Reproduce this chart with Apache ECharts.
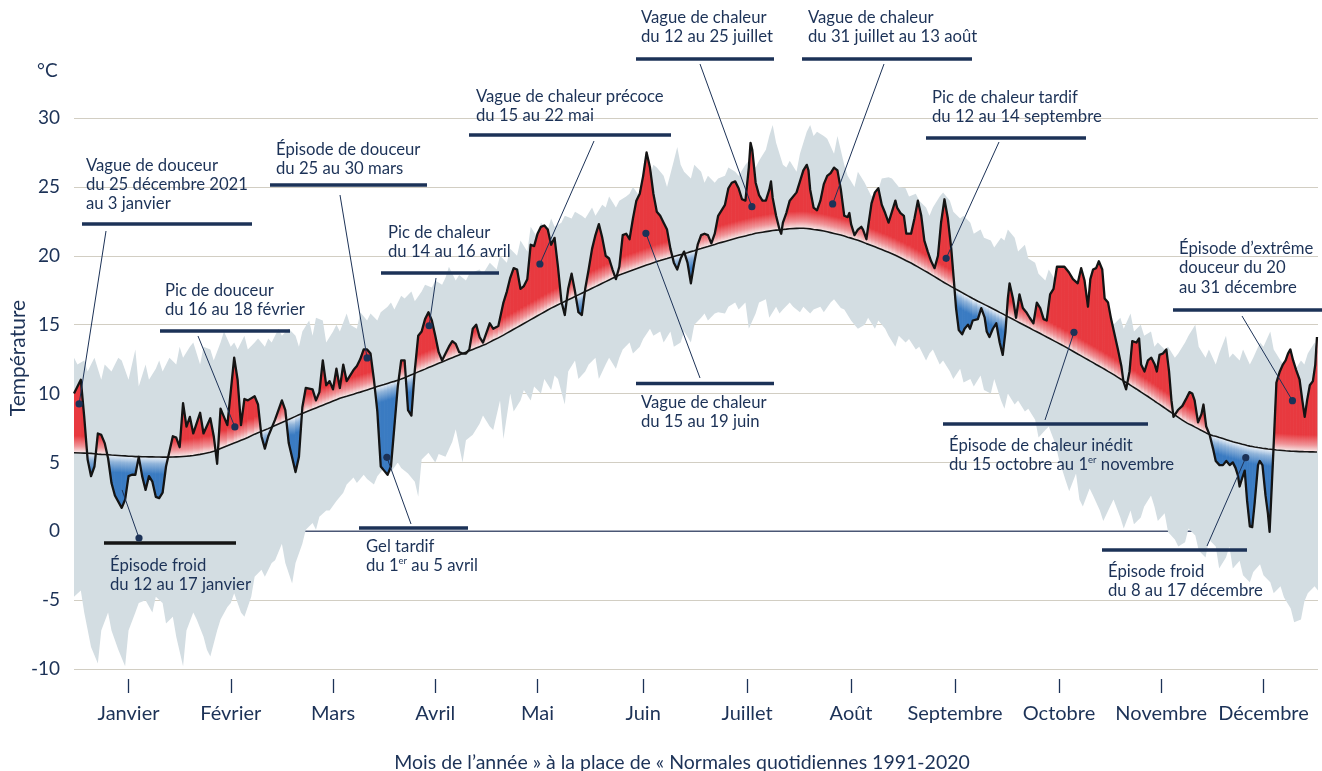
<!DOCTYPE html>
<html><head><meta charset="utf-8">
<script src="https://cdn.jsdelivr.net/npm/echarts@6/dist/echarts.min.js"></script>
<style>html,body{margin:0;padding:0;background:#fff}#c{width:1322px;height:771px}</style>
</head><body><div id="c"></div>
<script>
// ---------- DATA ----------
const monthNames = ['Janvier','Février','Mars','Avril','Mai','Juin','Juillet','Août','Septembre','Octobre','Novembre','Décembre'];
const monthTicks = [16, 46, 76, 106, 136, 167, 197.5, 228, 258.5, 289, 319, 349];
const yTicks = [-10, -5, 0, 5, 10, 15, 20, 25, 30];

// day of year (0 = 1 janvier), 2022 daily mean temperature, daily normal 1991-2020
const days = [
 0,2,3,4,5,6,7,8,9,10, 11,12,14,15,16,17,18,19,20,21, 22,23,24,25,26,27,29,30,31,32,
 33,34,35,37,38,40,41,42,43,45, 47,48,49,50,51,53,54,55,56,57, 59,61,62,63,65,66,67,68,70,71,
 72,73,74,75,76,77,78,79,80,81, 82,83,84,85,86,87,88,89,90,91, 92,93,94,95,96,97,98,99,100,101,
 102,103,104,105,106,107,108,109,110,111, 112,113,114,115,116,117,118,119,120,121,
 122,123,124.5,126,127,128,129,130,131,132, 133,134,135,136,137,138,139,140,141,142,
 143,144,145,146,147,148,149,150,151,152, 153,154,155,156,157,158,159,160,161,162,
 163,164,165,166,167,168,169,170,171,172, 173,174,175,176,177,178,179,180,181,182,
 183,184,185,186,187,188,189,190,191,192, 193,194,195,196,197,198,198.5,199,200,201,
 202,203,204,204.5,205,206,207,207.5,208,209, 210,212,213,214,215,215.5,216,217,218,219,
 220,221,222,223,224,225,226,227,227.5,228, 229,230,231,231.5,232.5,233,234,235,236,237,
 238,239,240,241,241.5,242.5,243.5,244.2,245.6,246.6, 247.6,248.6,249.5,250.5,251.5,252.5,253.5,254.4,255.4,256.4,
 257.4,258.1,258.8,259.6,260.6,261.3,262.3,262.9,263.7,265.2, 266.2,267.2,267.8,268.6,269.6,270.6,271.6,272.5,273.3,274,
 274.5,275.5,276.4,277.4,278.4,279.4,280.4,281.5,282.5,283.5, 284.5,285.4,286.4,287.4,288.4,289.7,290.6,291.9,293.1,294.5,
 295.5,296.5,297.5,298.2,299,299.9,300.7,301.7,302.4,303.4, 304.3,305.3,306.3,307.3,307.9,308.7,309.7,310.5,311.7,312.5,
 313.1,314.1,315.1,316.1,317.1,317.7,318.5,319.5,320.5,321.3, 322,322.6,323.9,325.2,326.5,327.3,328.1,328.8,329.8,330.8,
 331.4,332.2,333.2,334.2,335,336.1,337.1,338.1,339.1,340, 340.8,341.5,342,342.8,343.5,344.2,345,345.7,346.4,347.4,
 347.9,348.7,349.6,350.3,350.8,351.8,352.8,353.8,354.7,355.5, 356.2,356.9,357.7,358.6,359.6,360.4,361.1,361.8,362.6,363.5,
 364.2,364.7
];
const temp = [
 10.0,11.0,8.3,5.2,4.0,4.7,7.1,7.0,6.4,5.3, 3.5,2.6,1.7,2.3,4.0,4.1,4.1,5.4,4.0,3.0, 4.0,3.6,2.5,2.4,2.8,4.7,6.9,6.8,6.1,9.3,
 7.6,8.3,7.1,8.6,7.1,8.2,6.9,4.9,8.9,7.7, 12.6,11.0,7.7,9.6,9.5,9.8,9.2,6.9,6.0,6.9, 8.1,9.5,8.8,6.4,4.3,5.4,9.0,10.4,10.3,9.5,
 10.1,12.4,10.6,10.9,10.3,11.8,10.4,12.1,10.9,11.3, 11.7,12.0,12.5,13.2,13.2,12.9,11.0,8.7,4.7,4.4, 4.1,4.7,7.6,10.5,12.4,12.4,8.8,8.4,11.7,14.2,
 14.5,15.4,15.9,15.3,14.2,13.0,12.4,12.9,13.4,13.8, 13.6,13.0,12.9,12.9,13.2,14.7,15.0,14.1,13.7,14.4,
 15.1,14.7,14.9,16.6,17.4,18.4,19.1,19.0,17.6,17.8, 18.3,20.8,20.7,21.6,22.1,22.2,21.9,20.8,21.3,19.2,
 16.7,15.7,17.6,18.7,17.4,15.9,15.7,17.6,19.0,20.5, 21.5,22.3,21.3,20.0,19.8,19.0,18.3,19.2,21.5,21.6,
 21.2,22.7,24.0,24.5,25.8,27.5,26.4,24.5,23.2,22.9, 22.4,21.9,20.5,19.5,19.0,19.8,20.3,19.5,18.0,19.5,
 20.8,21.5,21.6,21.5,20.9,21.6,22.9,23.3,23.7,24.9, 25.3,25.4,24.9,24.1,24.0,26.4,28.2,27.7,25.3,24.4,
 24.0,24.0,24.8,25.4,24.2,22.9,21.9,21.6,22.4,23.1, 24.0,24.6,25.4,26.2,26.6,26.2,24.8,23.5,23.3,24.0,
 25.2,25.8,26.0,26.4,26.2,24.8,22.9,22.8,23.1,22.3, 21.5,21.9,22.1,21.9,21.2,22.1,23.8,24.6,24.9,23.7,
 23.1,22.4,23.2,24.0,23.5,23.1,22.9,21.6,21.6,22.7, 24.0,22.9,21.1,20.3,19.6,19.1,20.0,22.4,24.1,22.7,
 20.5,18.4,16.2,14.6,14.3,14.7,15.0,14.7,15.3,15.4, 16.2,15.5,14.5,14.1,14.7,15.1,13.7,12.8,14.5,16.9,
 18.0,16.9,15.5,17.2,16.2,15.9,15.5,15.1,16.6,16.2, 15.4,15.3,17.2,17.6,19.2,19.2,19.2,18.8,18.3,18.0,
 19.1,18.2,16.3,18.3,19.0,19.1,19.6,19.0,16.9,16.6, 15.4,14.3,13.2,12.0,10.9,10.3,11.6,13.8,13.7,14.0,
 12.1,11.6,12.4,12.6,12.1,11.6,12.8,12.9,13.2,11.6, 9.5,8.3,8.8,9.1,9.7,10.1,10.0,9.5,7.9,8.5,
 9.2,7.6,7.0,6.0,5.1,4.8,4.8,5.1,4.8,5.0, 4.6,4.05,3.25,3.9,4.4,2.2,0.35,0.3,2.0,4.8,
 5.1,4.8,2.6,1.3,-0.05,5.2,10.8,11.6,12.1,12.4, 12.9,13.2,12.4,11.7,11.0,9.5,8.3,9.5,10.6,10.9,
 12.1,14.1
];
const normal = [
 5.70,5.68,5.67,5.66,5.65,5.63,5.60,5.58,5.57,5.55, 5.53,5.52,5.48,5.47,5.45,5.44,5.42,5.42,5.41,5.41, 5.40,5.40,5.39,5.39,5.38,5.38,5.39,5.40,5.41,5.43,
 5.45,5.47,5.50,5.58,5.63,5.73,5.80,5.90,6.00,6.20, 6.40,6.50,6.60,6.70,6.80,7.05,7.15,7.25,7.35,7.45, 7.68,7.90,8.00,8.12,8.34,8.45,8.55,8.65,8.85,8.95,
 9.05,9.15,9.25,9.35,9.45,9.55,9.65,9.73,9.80,9.88, 9.95,10.03,10.10,10.18,10.26,10.34,10.42,10.50,10.58,10.65, 10.73,10.81,10.88,10.96,11.05,11.15,11.25,11.36,11.46,11.57,
 11.67,11.77,11.88,11.98,12.08,12.19,12.29,12.39,12.50,12.60, 12.70,12.80,12.90,13.00,13.10,13.20,13.30,13.40,13.50,13.60,
 13.73,13.86,14.04,14.24,14.38,14.52,14.66,14.80,14.94,15.08, 15.22,15.36,15.50,15.64,15.78,15.92,16.06,16.20,16.32,16.44,
 16.56,16.68,16.80,16.92,17.04,17.16,17.28,17.40,17.52,17.64, 17.76,17.88,18.00,18.12,18.24,18.36,18.48,18.60,18.69,18.78,
 18.87,18.96,19.05,19.14,19.23,19.32,19.41,19.50,19.58,19.65, 19.73,19.80,19.88,19.95,20.02,20.08,20.15,20.22,20.30,20.37,
 20.45,20.52,20.60,20.67,20.75,20.82,20.90,20.97,21.04,21.11, 21.18,21.25,21.32,21.38,21.44,21.50,21.53,21.56,21.63,21.67,
 21.71,21.75,21.79,21.81,21.83,21.86,21.88,21.89,21.91,21.93, 21.96,21.99,22.00,22.00,21.98,21.97,21.95,21.91,21.88,21.84,
 21.80,21.74,21.68,21.62,21.56,21.50,21.43,21.35,21.32,21.28, 21.20,21.13,21.03,20.98,20.88,20.84,20.75,20.65,20.55,20.45,
 20.35,20.25,20.15,20.03,19.97,19.85,19.73,19.64,19.47,19.33, 19.19,19.05,18.92,18.78,18.63,18.48,18.33,18.19,18.04,17.90,
 17.76,17.67,17.57,17.46,17.32,17.22,17.09,17.01,16.90,16.70, 16.58,16.45,16.38,16.28,16.15,16.02,15.89,15.78,15.67,15.58,
 15.52,15.39,15.27,15.14,15.01,14.88,14.75,14.60,14.48,14.35, 14.22,14.10,13.97,13.84,13.71,13.54,13.42,13.24,13.07,12.87,
 12.73,12.59,12.45,12.35,12.24,12.11,12.00,11.86,11.76,11.61, 11.48,11.33,11.17,11.02,10.92,10.80,10.65,10.52,10.33,10.20,
 10.10,9.94,9.78,9.61,9.44,9.34,9.21,9.04,8.87,8.73, 8.61,8.51,8.29,8.07,7.87,7.76,7.68,7.58,7.45,7.32,
 7.24,7.14,7.03,6.93,6.90,6.81,6.73,6.65,6.57,6.50, 6.45,6.40,6.37,6.32,6.28,6.23,6.18,6.15,6.12,6.08,
 6.06,6.03,6.00,5.97,5.96,5.93,5.90,5.88,5.86,5.84, 5.83,5.82,5.81,5.80,5.78,5.78,5.77,5.77,5.76,5.76,
 5.75,5.75
];
// range of daily values 1991-2020 (upper and lower envelope): [day, °C]
const bandHigh = [
 [0,12.6],[1,12.1],[3,12.4],[4,11.6],[5,12.1],[6,12.6],[8,11.0],[9,12.1],[11,11.6],[12,12.1],[13,12.6],[14,12.4],[16,11.0],[18,13.2],[19,10.5],[21,12.1],[22,11.0],[24,11.8],[25,12.4],[26,11.6],
 [28,12.6],[30,12.1],[31,13.4],[32,12.6],[34,13.4],[35,13.7],[37,12.1],[38,13.4],[40,13.2],[41,12.4],[43,13.7],[44,14.5],[46,13.4],[47,13.7],[48,13.2],[50,14.2],[51,13.2],[53,13.7],[54,14.0],[56,13.4],
 [57,14.0],[58,13.7],[60,14.7],[61,14.2],[63,14.7],[65,14.2],[66,13.4],[67,14.5],[69,15.3],[70,14.2],[71,15.5],[73,15.3],[74,13.7],[76,14.5],[77,15.0],[78,14.5],[80,15.8],[81,15.0],[83,14.7],[84,15.9],
 [86,15.3],[87,15.8],[89,15.3],[90,15.9],[92,16.3],[93,16.6],[94,16.1],[96,17.1],[97,16.9],[99,17.4],[100,16.7],[102,17.4],[103,17.9],[105,17.7],[106,18.2],[108,17.9],[109,18.4],[110,19.2],[112,18.2],[113,18.6],
 [115,18.2],[116,18.7],[117,18.8],[119,19.0],[120,18.7],[122,19.5],[124,19.0],[125,20.0],[127,19.5],[128,20.5],[130,20.0],[131,21.1],[133,20.3],[134,22.1],[136,21.3],[137,22.4],[139,21.9],[140,22.7],[141,22.1],[143,22.4],
 [144,22.9],[146,22.7],[147,23.2],[149,22.9],[150,22.7],[152,23.5],[153,22.9],[155,23.7],[156,23.5],[157,24.3],[159,23.5],[160,24.0],[162,24.3],[163,24.5],[164,25.0],[166,24.3],[167,25.3],[169,25.8],[170,26.6],[171,26.4],
 [173,25.8],[174,25.0],[176,26.9],[177,27.9],[178,26.6],[179,26.1],[181,25.6],[182,26.6],[184,26.1],[185,25.3],[186,25.8],[188,25.3],[189,25.6],[191,25.8],[192,26.4],[194,26.1],[195,25.8],[197,26.6],[198,26.9],[200,26.4],
 [201,26.9],[203,27.7],[204,28.7],[205,29.5],[206,28.2],[208,26.6],[209,26.4],[210,26.9],[212,26.1],[213,27.4],[215,29.0],[216,29.5],[217,28.7],[218,29.0],[220,28.7],[221,28.5],[223,27.4],[224,28.7],[226,26.6],[227,25.8],
 [229,25.0],[230,26.1],[232,25.3],[233,24.8],[234,24.3],[236,24.8],[237,25.6],[239,25.7],[240,25.6],[242,25.0],[244,24.9],[245,24.3],[247,24.5],[248,24.0],[250,23.5],[251,22.9],[252,23.5],[254,24.3],[255,24.6],[257,24.0],
 [258,23.2],[260,22.7],[261,22.9],[263,22.4],[264,21.6],[266,21.9],[267,21.3],[269,21.1],[270,20.6],[272,21.3],[273,21.1],[274,21.9],[276,21.3],[277,20.3],[279,20.8],[280,19.8],[282,19.5],[283,18.7],[285,18.2],[286,19.0],
 [288,18.2],[289,18.7],[291,17.9],[292,17.4],[294,17.7],[295,18.2],[296,17.4],[298,16.9],[299,17.4],[301,16.6],[302,16.1],[304,15.8],[305,15.0],[307,15.5],[308,14.7],[310,15.8],[311,14.5],[313,15.0],[314,14.2],[316,14.5],
 [317,13.4],[318,13.7],[320,13.2],[321,13.4],[323,12.6],[324,12.9],[326,13.7],[327,14.2],[329,15.0],[330,13.4],[332,12.6],[333,13.2],[335,12.1],[336,12.9],[338,14.2],[339,12.6],[340,12.9],[342,12.4],[343,13.2],[345,12.1],
 [346,12.6],[348,13.7],[349,13.4],[351,14.5],[352,13.2],[354,12.4],[355,12.1],[357,12.6],[358,11.6],[360,12.4],[361,12.1],[362,12.9],[364,13.7],[365,13.0]
];
const bandLow = [
 [0,-4.75],[2,-4.3],[3,-5.9],[5,-8.4],[7,-9.6],[8,-7.2],[10,-5.9],[11,-7.2],[13,-8.6],[15,-9.8],[16,-7.2],[18,-5.9],[19,-5.2],[21,-5.0],[23,-5.9],[24,-4.75],[26,-5.2],[27,-6.7],[29,-6.2],[30,-7.65],
 [32,-9.8],[33,-7.2],[35,-5.9],[36,-6.4],[38,-7.65],[39,-8.6],[40,-9.1],[42,-7.2],[43,-6.4],[45,-5.5],[46,-5.2],[47,-4.5],[49,-5.9],[50,-6.2],[52,-4.75],[53,-3.3],[55,-2.8],[56,-3.3],[58,-2.3],[59,-2.1],
 [61,-0.9],[62,-2.3],[64,-3.8],[65,-2.3],[67,-0.9],[68,0.1],[70,0.6],[71,0.1],[72,1.05],[74,1.5],[75,1.5],[77,2.2],[79,2.8],[80,3.4],[82,3.9],[83,3.5],[85,4.1],[86,3.8],[88,3.4],[89,4.0],
 [91,4.6],[93,4.3],[95,5.0],[96,4.6],[98,4.2],[100,3.6],[101,2.5],[102,5.2],[104,5.7],[106,5.0],[107,5.6],[109,5.4],[111,6.5],[112,7.4],[114,5.0],[115,6.6],[117,7.0],[119,7.8],[120,8.4],[122,7.6],
 [123,7.35],[125,9.5],[126,6.7],[128,10.0],[129,8.7],[131,9.5],[132,10.25],[134,9.5],[135,10.5],[137,10.0],[138,11.05],[140,10.25],[141,11.3],[142,11.05],[144,9.2],[145,11.6],[147,12.4],[148,11.05],[150,11.6],[151,12.1],
 [153,12.6],[154,11.05],[156,12.1],[157,12.6],[159,11.8],[160,12.6],[161,13.2],[163,13.7],[164,12.9],[166,13.4],[167,13.95],[169,14.7],[170,14.2],[172,14.5],[173,13.7],[175,14.5],[176,13.4],[178,13.7],[179,14.5],[181,13.7],
 [182,15.0],[184,15.5],[185,15.8],[186,15.3],[188,15.8],[189,15.9],[191,15.8],[192,16.3],[194,16.6],[195,16.1],[197,16.6],[198,14.7],[200,15.8],[201,16.6],[203,16.85],[204,15.5],[206,16.3],[207,15.8],[208,16.1],[210,16.6],
 [211,16.3],[213,15.9],[214,16.3],[216,15.8],[217,16.1],[219,16.3],[220,15.9],[222,16.6],[223,16.85],[225,16.2],[226,16.1],[228,15.3],[229,15.0],[230,14.7],[232,15.0],[233,15.5],[235,14.7],[236,15.3],[238,14.7],[239,14.2],
 [241,13.4],[242,14.2],[244,13.7],[245,13.95],[247,13.2],[248,13.4],[250,12.4],[251,12.9],[252,13.2],[254,12.1],[255,12.4],[257,11.6],[258,11.05],[260,11.8],[261,10.8],[263,11.05],[264,10.5],[266,11.3],[267,10.25],[269,10.0],
 [270,11.05],[272,9.5],[273,8.9],[274,10.0],[276,9.2],[277,9.5],[279,8.7],[280,8.9],[282,8.1],[283,6.8],[285,7.35],[286,7.6],[288,6.3],[289,5.2],[291,3.65],[292,2.9],[294,4.2],[295,2.3],[296,1.8],[298,3.1],
 [299,2.6],[301,1.5],[302,0.75],[304,1.8],[305,2.3],[307,1.0],[308,0.2],[310,1.5],[311,0.5],[313,1.0],[314,1.8],[316,2.6],[317,1.8],[318,0.75],[320,1.3],[321,-0.05],[323,-0.6],[324,-1.1],[326,-0.8],[327,0.2],
 [329,-0.3],[330,-1.4],[332,-1.9],[333,-0.6],[335,-1.1],[336,-2.7],[338,-1.9],[339,-1.1],[340,-2.7],[342,-2.15],[343,-3.2],[345,-3.7],[346,-2.95],[348,-2.4],[349,-3.2],[351,-3.7],[352,-4.5],[354,-4.0],[355,-4.8],[357,-5.6],
 [358,-6.6],[360,-6.4],[361,-5.1],[362,-4.5],[364,-4.0],[365,-4.3]
];

// annotations: text, the data point they refer to [day, °C]
const notes = [
 {text:'Vague de douceur\ndu 25 décembre 2021\nau 3 janvier', point:[1.5,9.24]},
 {text:'Pic de douceur\ndu 16 au 18 février', point:[47.2,7.57]},
 {text:'Épisode de douceur\ndu 25 au 30 mars', point:[86,12.58]},
 {text:'Pic de chaleur\ndu 14 au 16 avril', point:[104.2,14.92]},
 {text:'Vague de chaleur précoce\ndu 15 au 22 mai', point:[136.7,19.4]},
 {text:'Vague de chaleur\ndu 15 au 19 juin', point:[167.8,21.63]},
 {text:'Vague de chaleur\ndu 12 au 25 juillet', point:[198.9,23.56]},
 {text:'Vague de chaleur\ndu 31 juillet au 13 août', point:[222.6,23.76]},
 {text:'Pic de chaleur tardif\ndu 12 au 14 septembre', point:[255.9,19.81]},
 {text:'Épisode de chaleur inédit\ndu 15 octobre au 1{sup|er} novembre', point:[293.4,14.44]},
 {text:'Épisode d’extrême\ndouceur du 20\nau 31 décembre', point:[357.5,9.48]},
 {text:'Épisode froid\ndu 8 au 17 décembre', point:[343.8,5.34]},
 {text:'Gel tardif\ndu 1{sup|er} au 5 avril', point:[91.8,5.37]},
 {text:'Épisode froid\ndu 12 au 17 janvier', point:[14.1,3.0]}
];
// annotation layout (pixels): text top-left, bar [x1,x2,y], leader start
const noteLayout = [
 {tx:86, ty:156, bar:[82,252,224], from:[106,231]},
 {tx:165, ty:281, bar:[160,290,331], from:[198,336]},
 {tx:276, ty:140, bar:[270,427,185], from:[340,195]},
 {tx:388, ty:223, bar:[381,499,273], from:[436,278]},
 {tx:476, ty:87, bar:[469,671,135], from:[594,141]},
 {tx:641, ty:393, bar:[636,774,383.5], from:[700,378]},
 {tx:641, ty:8, bar:[636,774,59], from:[700,64]},
 {tx:808, ty:8, bar:[802,972,59], from:[884,64]},
 {tx:932, ty:88, bar:[926,1086,138], from:[999,142]},
 {tx:949, ty:436, bar:[943,1148,424], from:[1045,420]},
 {tx:1179, ty:239.5, bar:[1173,1322,310], from:[1242,316]},
 {tx:1108, ty:562, bar:[1102,1247,550], from:[1207,546]},
 {tx:366, ty:537, bar:[359,468,528], from:[411,524]},
 {tx:110, ty:556, bar:[104,236,543], from:[139,538], dotAtStart:true, barColor:'#151515'}
];

// ---------- STYLE ----------
const NAVY = '#1c3257';
const FONT = 'Lato, "Noto Sans", sans-serif';
const FADE = 17;
const RED_STOPS = [{offset:0,color:'#f7eded'},{offset:0.4,color:'#f09397'},{offset:1,color:'#e8393f'}];
const BLUE_STOPS = [{offset:0,color:'#eef3f8'},{offset:0.4,color:'#90b4da'},{offset:1,color:'#3a7bc2'}];

const chart = echarts.init(document.getElementById('c'), null, {renderer:'canvas'});

function zeroLineItem(params, api) {
  const a = api.coord([0, 0]), b = api.coord([365, 0]);
  return {type:'line', shape:{x1:a[0], y1:a[1], x2:b[0], y2:b[1]}, style:{stroke:'#4a5775', lineWidth:1.5}, silent:true};
}

function bandItem(params, api) {
  const pts = bandHigh.map(p => api.coord(p)).concat(bandLow.slice().reverse().map(p => api.coord(p)));
  return {type:'polygon', shape:{points:pts}, style:{fill:'#d3dde2'}, silent:true};
}

function fillItem(params, api) {
  const i = params.dataIndex;
  if (i >= days.length - 1) return null;
  const d0 = days[i], d1 = days[i+1], t0 = temp[i], t1 = temp[i+1], n0 = normal[i], n1 = normal[i+1];
  const s0 = t0 - n0, s1 = t1 - n1;
  const piece = (a, b, sign) => {
    const px = [api.coord([a[0],a[1]]), api.coord([b[0],b[1]]), api.coord([b[0],b[2]]), api.coord([a[0],a[2]])];
    const ref = api.coord([(a[0]+b[0])/2, (a[2]+b[2])/2]);
    const up = sign > 0;
    const g = {type:'linear', x:ref[0], y:ref[1], x2:ref[0], y2:ref[1] + (up ? -FADE : FADE), global:true,
               colorStops: up ? RED_STOPS : BLUE_STOPS};
    return {type:'polygon', shape:{points:px}, style:{fill:g, stroke:g, lineWidth:0.8}, silent:true};
  };
  const children = [];
  if (s0 * s1 < 0) {
    const f = s0 / (s0 - s1);
    const dc = d0 + f * (d1 - d0), nc = n0 + f * (n1 - n0);
    children.push(piece([d0,t0,n0],[dc,nc,nc], s0), piece([dc,nc,nc],[d1,t1,n1], s1));
  } else {
    const s = s0 !== 0 ? s0 : s1;
    if (s === 0) return null;
    children.push(piece([d0,t0,n0],[d1,t1,n1], s));
  }
  return {type:'group', children};
}

chart.setOption({
  animation:false,
  backgroundColor:'#ffffff',
  grid:{left:74, right:4, top:118, bottom:102, containLabel:false},
  xAxis:{
    type:'value', min:0, max:365, offset:10, position:'bottom',
    axisLine:{show:false, onZero:false}, splitLine:{show:false},
    axisTick:{show:true, customValues:monthTicks, length:14, lineStyle:{color:NAVY, width:1.3}},
    axisLabel:{show:true, customValues:monthTicks, margin:25, color:NAVY, fontSize:20, fontFamily:FONT,
      formatter:(v) => { const k = monthTicks.indexOf(v); return k >= 0 ? monthNames[k] : ''; }}
  },
  yAxis:{
    type:'value', min:yTicks[0], max:yTicks[yTicks.length-1], interval:5,
    axisLine:{show:false}, axisTick:{show:false},
    axisLabel:{color:NAVY, fontSize:19, fontFamily:FONT, margin:14},
    splitLine:{show:true, lineStyle:{color:'#d2cec3', width:1.2}}
  },
  series:[
    {type:'custom', name:'zero', z:1, renderItem:zeroLineItem, data:[[0,0]], encode:{x:0,y:1}, silent:true},
    {type:'custom', name:'band', z:2, renderItem:bandItem, data:[[0,0]], encode:{x:0,y:1}, silent:true, clip:true},
    {type:'custom', name:'anomaly', z:3, renderItem:fillItem, data:days.map((d,i)=>[d,temp[i]]), encode:{x:0,y:1}, silent:true, clip:true},
    {type:'line', name:'normale', z:4, data:days.map((d,i)=>[d,normal[i]]), showSymbol:false, smooth:false,
      lineStyle:{color:'#151515', width:1.6}, silent:true},
    {type:'line', name:'2022', z:5, data:days.map((d,i)=>[d,temp[i]]), showSymbol:false, smooth:false,
      lineStyle:{color:'#141414', width:2.3, join:'round'}, silent:true}
  ]
});

// ---------- ANNOTATIONS ----------
const g = [];
g.push({type:'text', style:{text:'°C', x:37, y:61, font:'19px ' + FONT, fill:NAVY, align:'left', verticalAlign:'top'}, z:20});
g.push({type:'text', x:18, y:358, rotation:Math.PI/2, style:{text:'Température', x:0, y:0, font:'21px ' + FONT, fill:NAVY, align:'center', verticalAlign:'middle'}, z:20});
g.push({type:'text', style:{text:'Mois de l’année » à la place de « Normales quotidiennes 1991-2020', x:682, y:763, font:'19.5px ' + FONT, fill:NAVY, align:'center', verticalAlign:'middle'}, z:20});

notes.forEach((n, k) => {
  const L = noteLayout[k];
  const p = chart.convertToPixel({gridIndex:0}, n.point);
  g.push({type:'text', z:20, style:{text:n.text, x:L.tx, y:L.ty - 0.5, font:'16.7px ' + FONT, fill:NAVY, lineHeight:19.4,
    align:'left', verticalAlign:'top',
    rich:{sup:{fontSize:9.5, fontFamily:'Lato, "Noto Sans", sans-serif', fill:NAVY, verticalAlign:'top', lineHeight:12, padding:[0,0,6,0]}}}});
  g.push({type:'rect', z:20, shape:{x:L.bar[0], y:L.bar[2]-1.75, width:L.bar[1]-L.bar[0], height:3.5}, style:{fill:L.barColor || NAVY}});
  g.push({type:'line', z:21, shape:{x1:L.from[0], y1:L.from[1], x2:p[0], y2:p[1]}, style:{stroke:NAVY, lineWidth:1}});
  const dot = L.dotAtStart ? L.from : p;
  g.push({type:'circle', z:22, shape:{cx:dot[0], cy:dot[1], r:3.6}, style:{fill:NAVY}});
});
chart.setOption({graphic:g});
</script>
</body></html>
